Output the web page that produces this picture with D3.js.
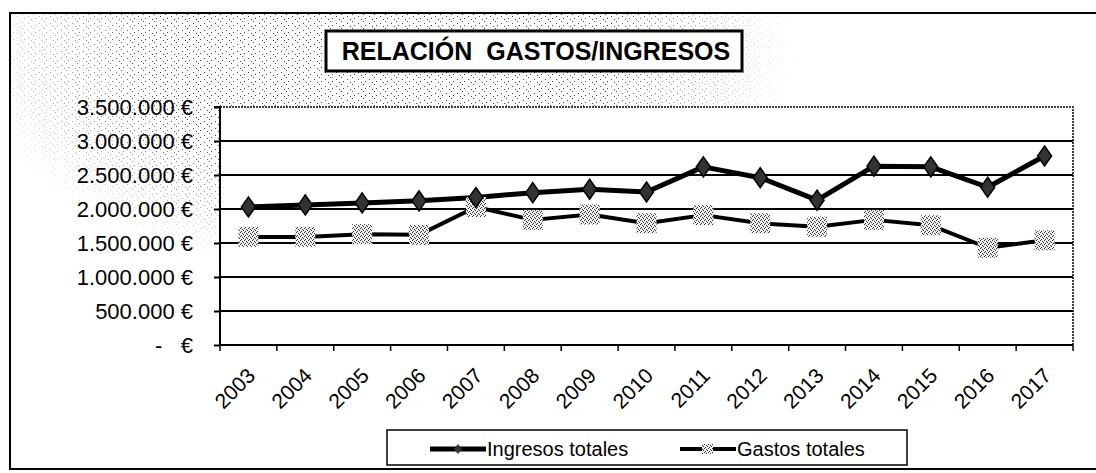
<!DOCTYPE html>
<html>
<head>
<meta charset="utf-8">
<script src="https://cdn.jsdelivr.net/npm/d3@7"></script>
<style>
  html, body { margin: 0; padding: 0; background: #fff; }
  svg { display: block; font-family: "Liberation Sans", Arial, sans-serif; }
</style>
</head>
<body>
<div id="chart"></div>
<script>
// datos
const years = ["2003", "2004", "2005", "2006", "2007", "2008", "2009", "2010",
               "2011", "2012", "2013", "2014", "2015", "2016", "2017"];
const ingresos = [2030000, 2060000, 2090000, 2120000, 2170000, 2240000, 2290000, 2250000,
                  2620000, 2460000, 2130000, 2630000, 2620000, 2320000, 2780000];
const gastos = [1590000, 1590000, 1630000, 1620000, 2030000, 1840000, 1920000, 1790000,
                1910000, 1790000, 1740000, 1840000, 1760000, 1430000, 1540000];
const yTicks = [0, 500000, 1000000, 1500000, 2000000, 2500000, 3000000, 3500000];
const yTickLabels = ["-   €", "500.000 €", "1.000.000 €", "1.500.000 €", "2.000.000 €",
                     "2.500.000 €", "3.000.000 €", "3.500.000 €"];
const seriesNames = ["Ingresos totales", "Gastos totales"];
const title = "RELACIÓN  GASTOS/INGRESOS";

const width = 1096;
const height = 473;
const plot = { left: 220, right: 1073, top: 107, bottom: 345 };

const svg = d3.select("#chart")
    .append("svg")
    .attr("width", width)
    .attr("height", height);

const defs = svg.append("defs");

// punteado gris del fondo (escaneo)
const stip = defs.append("pattern")
    .attr("id", "stip")
    .attr("width", 11).attr("height", 7)
    .attr("patternUnits", "userSpaceOnUse");
[[0, 0], [6, 2], [2, 4], [9, 5]].forEach(p => {
    stip.append("rect").attr("x", p[0]).attr("y", p[1])
        .attr("width", 1).attr("height", 1).attr("fill", "#444");
});

const fade = defs.append("radialGradient")
    .attr("id", "fade")
    .attr("gradientUnits", "userSpaceOnUse")
    .attr("cx", 380).attr("cy", 50).attr("r", 420)
    .attr("gradientTransform", "translate(380,50) scale(1,0.55) translate(-380,-50)");
fade.append("stop").attr("offset", "0%").attr("stop-color", "#fff");
fade.append("stop").attr("offset", "55%").attr("stop-color", "#fff");
fade.append("stop").attr("offset", "100%").attr("stop-color", "#000");
defs.append("mask").attr("id", "fadeMask")
    .append("rect").attr("width", width).attr("height", height).attr("fill", "url(#fade)");

// relleno moteado de los marcadores
const speck = defs.append("pattern")
    .attr("id", "speck")
    .attr("width", 4).attr("height", 4)
    .attr("patternUnits", "userSpaceOnUse");
speck.append("rect").attr("width", 4).attr("height", 4).attr("fill", "#eeeeee");
[[0, 0], [2, 1], [1, 3], [3, 2]].forEach(p => {
    speck.append("rect").attr("x", p[0]).attr("y", p[1])
        .attr("width", 1).attr("height", 1).attr("fill", "#333");
});

svg.append("rect")
    .attr("x", 10).attr("y", 13)
    .attr("width", width).attr("height", 456)
    .attr("fill", "url(#stip)")
    .attr("mask", "url(#fadeMask)");

// marco exterior
svg.append("path")
    .attr("d", `M${width},13 H10 V469 H${width}`)
    .attr("fill", "none")
    .attr("stroke", "#000")
    .attr("stroke-width", 2);

// area de trazado
svg.append("rect")
    .attr("x", plot.left).attr("y", plot.top)
    .attr("width", plot.right - plot.left).attr("height", plot.bottom - plot.top)
    .attr("fill", "#fff");

svg.append("path")
    .attr("d", `M${plot.left},${plot.top} H${plot.right} V${plot.bottom}`)
    .attr("fill", "none")
    .attr("stroke", "#000")
    .attr("stroke-width", 1.5)
    .attr("stroke-dasharray", "2,1");

const xScale = d3.scaleBand()
    .domain(years)
    .range([plot.left, plot.right]);

const yScale = d3.scaleLinear()
    .domain([0, 3500000])
    .range([plot.bottom, plot.top]);

// lineas de division
svg.append("g")
    .selectAll("line")
    .data(yTicks.filter(t => t > 0 && t < 3500000))
    .enter().append("line")
    .attr("x1", plot.left).attr("x2", plot.right)
    .attr("y1", d => yScale(d)).attr("y2", d => yScale(d))
    .attr("stroke", "#000")
    .attr("stroke-width", 2);

// eje Y
const yAxis = svg.append("g")
    .attr("transform", "translate(" + plot.left + ",0)")
    .call(d3.axisLeft(yScale)
        .tickValues(yTicks)
        .tickSize(6)
        .tickPadding(21)
        .tickFormat((d, i) => yTickLabels[i]));
yAxis.select(".domain").attr("stroke-width", 2).attr("d", `M-6,${plot.top}H0V${plot.bottom}`);
yAxis.selectAll(".tick line").attr("stroke-width", 2);
yAxis.selectAll("text")
    .attr("font-size", "22px")
    .attr("font-family", "Liberation Sans, Arial, sans-serif")
    .attr("fill", "#000")
    .style("white-space", "pre");

// eje X con las marcas entre categorias
svg.append("line")
    .attr("x1", plot.left).attr("x2", plot.right)
    .attr("y1", plot.bottom).attr("y2", plot.bottom)
    .attr("stroke", "#000").attr("stroke-width", 2);

const boundaries = years.map(d => xScale(d)).concat([plot.right]);
svg.append("g")
    .selectAll("line")
    .data(boundaries)
    .enter().append("line")
    .attr("x1", d => d).attr("x2", d => d)
    .attr("y1", plot.bottom).attr("y2", plot.bottom + 6)
    .attr("stroke", "#000").attr("stroke-width", 1.5);

svg.append("g")
    .selectAll("text")
    .data(years)
    .enter().append("text")
    .attr("transform", d => {
        const tx = xScale(d) + xScale.bandwidth() / 2 + 8;
        return "translate(" + tx + "," + (plot.bottom + 32) + ") rotate(-45)";
    })
    .attr("text-anchor", "end")
    .attr("font-size", "21px")
    .attr("fill", "#000")
    .text(d => d);

// series
const cx = d => xScale(d) + xScale.bandwidth() / 2;

const serieLine = d3.line()
    .x((d, i) => cx(years[i]))
    .y(d => yScale(d));

svg.append("path")
    .datum(gastos)
    .attr("d", serieLine)
    .attr("fill", "none")
    .attr("stroke", "#000")
    .attr("stroke-width", 4)
    .attr("stroke-linejoin", "round");

svg.append("path")
    .datum(ingresos)
    .attr("d", serieLine)
    .attr("fill", "none")
    .attr("stroke", "#000")
    .attr("stroke-width", 5)
    .attr("stroke-linejoin", "round");

const diamond = "M0,-10 L7,0 L0,10 L-7,0 Z";

svg.append("g")
    .selectAll("rect")
    .data(gastos)
    .enter().append("rect")
    .attr("x", (d, i) => cx(years[i]) - 10)
    .attr("y", d => yScale(d) - 10)
    .attr("width", 20).attr("height", 20)
    .attr("fill", "url(#speck)");

svg.append("g")
    .selectAll("path")
    .data(ingresos)
    .enter().append("path")
    .attr("d", diamond)
    .attr("transform", (d, i) => "translate(" + cx(years[i]) + "," + yScale(d) + ")")
    .attr("fill", "#333")
    .attr("stroke", "#000")
    .attr("stroke-width", 1.5);

// titulo
svg.append("rect")
    .attr("x", 326).attr("y", 31)
    .attr("width", 416).attr("height", 40)
    .attr("fill", "#fff")
    .attr("stroke", "#000")
    .attr("stroke-width", 3);

svg.append("text")
    .attr("x", 536).attr("y", 60)
    .attr("text-anchor", "middle")
    .attr("font-size", "25px")
    .attr("font-weight", "bold")
    .attr("fill", "#000")
    .style("white-space", "pre")
    .text(title);

// leyenda
const legend = svg.append("g");
legend.append("rect")
    .attr("x", 387).attr("y", 430)
    .attr("width", 520).attr("height", 35)
    .attr("fill", "#fff")
    .attr("stroke", "#000")
    .attr("stroke-width", 1.5);

const legendX = [430, 680];
seriesNames.forEach((name, i) => {
    const ly = 449;
    legend.append("line")
        .attr("x1", legendX[i]).attr("x2", legendX[i] + 56)
        .attr("y1", ly).attr("y2", ly)
        .attr("stroke", "#000")
        .attr("stroke-width", i === 0 ? 5 : 4);
    if (i === 0) {
        legend.append("path")
            .attr("d", "M0,-5 L4,0 L0,5 L-4,0 Z")
            .attr("transform", "translate(" + (legendX[i] + 28) + "," + ly + ")")
            .attr("fill", "#333");
    } else {
        legend.append("rect")
            .attr("x", legendX[i] + 22).attr("y", ly - 5)
            .attr("width", 11).attr("height", 10)
            .attr("fill", "url(#speck)");
    }
    legend.append("text")
        .attr("x", legendX[i] + 57)
        .attr("y", ly + 7)
        .attr("font-size", "20px")
        .attr("fill", "#000")
        .text(name);
});
</script>
</body>
</html>
